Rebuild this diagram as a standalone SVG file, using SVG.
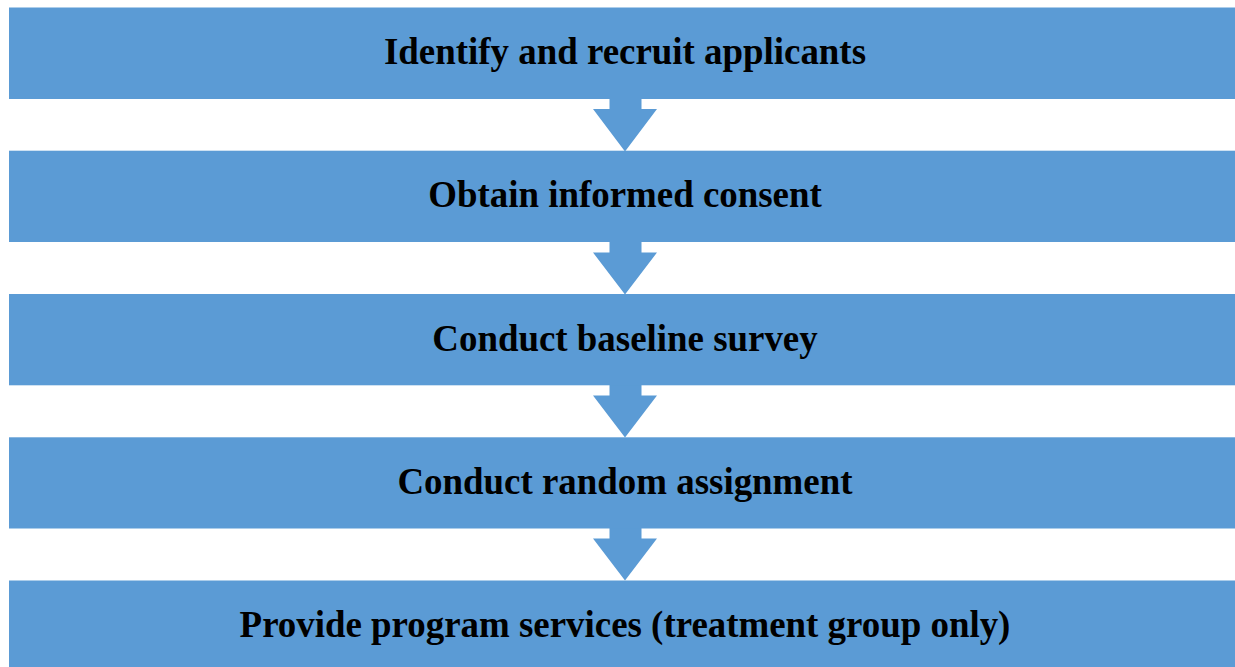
<svg xmlns="http://www.w3.org/2000/svg" width="1235" height="667" viewBox="0 0 1235 667">
  <style>
    .box { fill: #5B9BD5; }
    .arrow { fill: #5B9BD5; }
    .label { font-family: "Liberation Serif", "Times New Roman", serif; font-weight: bold; font-size: 36.9px; fill: #000; text-anchor: middle; }
  </style>
  <rect width="1235" height="667" fill="#ffffff"/>

  <!-- connectors: block arrows between steps -->
  <g id="connectors">
    <polygon class="arrow" points="609.5,98 641.5,98 641.5,109 657,109 625,151.5 593,109 609.5,109"/>
    <polygon class="arrow" points="609.5,241 641.5,241 641.5,252.5 657,252.5 625,294.5 593,252.5 609.5,252.5"/>
    <polygon class="arrow" points="609.5,384 641.5,384 641.5,395.5 657,395.5 625,437.5 593,395.5 609.5,395.5"/>
    <polygon class="arrow" points="609.5,527 641.5,527 641.5,538.5 657,538.5 625,580.5 593,538.5 609.5,538.5"/>
  </g>

  <g id="step1">
    <rect class="box" x="9" y="7.5" width="1226" height="91.5"/>
    <text class="label" x="625" y="64">Identify and recruit applicants</text>
  </g>
  <g id="step2">
    <rect class="box" x="9" y="150.7" width="1226" height="91.3"/>
    <text class="label" x="625" y="207.2">Obtain informed consent</text>
  </g>
  <g id="step3">
    <rect class="box" x="9" y="294" width="1226" height="91.3"/>
    <text class="label" x="625" y="350.5">Conduct baseline survey</text>
  </g>
  <g id="step4">
    <rect class="box" x="9" y="437.3" width="1226" height="91.2"/>
    <text class="label" x="625" y="493.8">Conduct random assignment</text>
  </g>
  <g id="step5">
    <rect class="box" x="9" y="580.5" width="1226" height="91.5"/>
    <text class="label" x="625" y="637">Provide program services (treatment group only)</text>
  </g>
</svg>
